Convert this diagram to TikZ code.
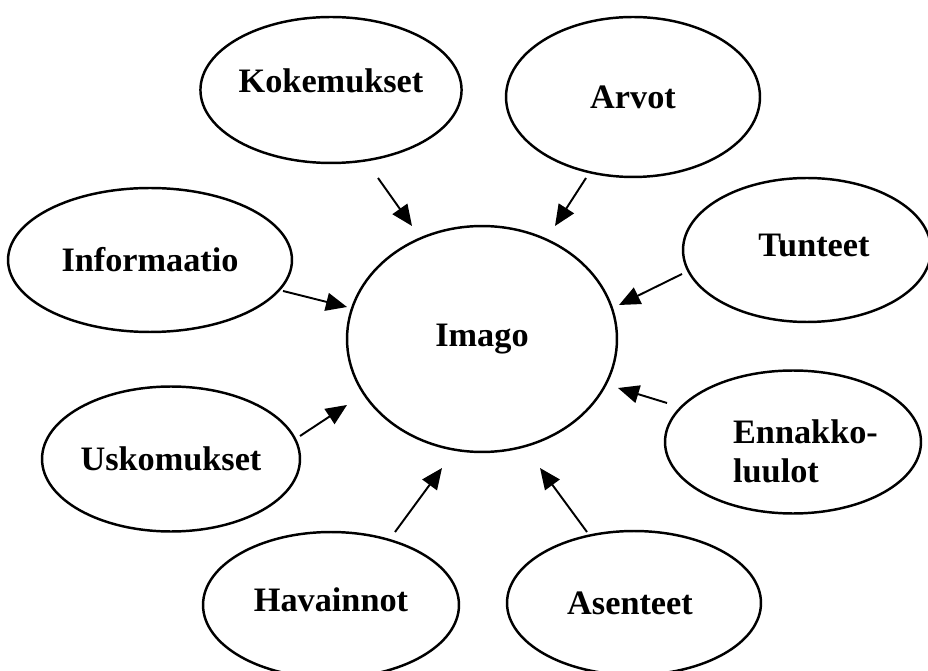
\documentclass[tikz,border=0pt]{standalone}
\usepackage{fontspec}
\setmainfont{Liberation Serif}
\usetikzlibrary{shapes.geometric,arrows.meta}
\begin{document}
\begin{tikzpicture}[x=0.02cm,y=-0.02cm,
  oval/.style={draw, line width=1.4pt, ellipse, inner sep=0pt,
    font=\fontsize{19.5}{22}\selectfont\bfseries},
  arr/.style={-{Triangle[length=0.42cm,width=0.36cm]}, line width=1.1pt}]
\useasboundingbox (0,0) rectangle (928,671);
% nodes
\node[oval, minimum width=5.4cm, minimum height=4.52cm] (imago) at (482,339) {Imago};
\node[oval, minimum width=5.16cm, minimum height=2.92cm, text depth=0.36cm] (kok) at (331,90) {Kokemukset};
\node[oval, minimum width=5.08cm, minimum height=3.2cm] (arv) at (633,97) {Arvot};
\node[oval, minimum width=5.68cm, minimum height=2.88cm] (inf) at (150,260) {Informaatio};
\node[oval, minimum width=4.96cm, minimum height=2.88cm, text depth=0.2cm] (tun) at (807,250) {\hspace*{0.28cm}Tunteet};
\node[oval, minimum width=5.16cm, minimum height=2.9cm] (usk) at (171,459) {Uskomukset};
\node[oval, minimum width=5.12cm, minimum height=2.86cm, align=left] (enn) at (793,442)
  {\rule{0pt}{0.85cm}\hspace*{0.5cm}Ennakko-\\\hspace*{0.5cm}luulot};
\node[oval, minimum width=5.12cm, minimum height=2.92cm, text depth=0.2cm] (hav) at (331,605) {Havainnot};
\node[oval, minimum width=5.08cm, minimum height=2.88cm] (ase) at (634,603) {Asenteet\hspace*{0.16cm}};
% arrow ends
\coordinate (kokA) at (378,178); \coordinate (kokB) at (412,226);
\coordinate (arvA) at (586,178); \coordinate (arvB) at (555,226);
\coordinate (infA) at (283,291); \coordinate (infB) at (347,307);
\coordinate (tunA) at (682,274); \coordinate (tunB) at (619,305);
\coordinate (uskA) at (300,436); \coordinate (uskB) at (347,405);
\coordinate (ennA) at (667,403); \coordinate (ennB) at (618,388);
\coordinate (havA) at (395,532); \coordinate (havB) at (442,468);
\coordinate (aseA) at (587,532); \coordinate (aseB) at (540,468);
% arrows
\draw[arr] (kokA) -- (kokB);
\draw[arr] (arvA) -- (arvB);
\draw[arr] (infA) -- (infB);
\draw[arr] (tunA) -- (tunB);
\draw[arr] (uskA) -- (uskB);
\draw[arr] (ennA) -- (ennB);
\draw[arr] (havA) -- (havB);
\draw[arr] (aseA) -- (aseB);
\end{tikzpicture}
\end{document}
